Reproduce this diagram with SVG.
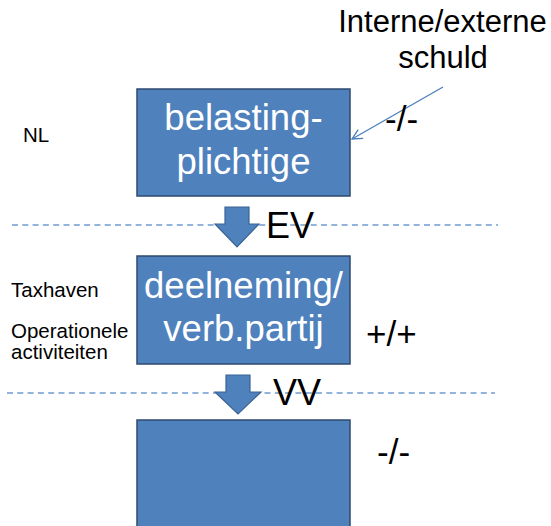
<svg xmlns="http://www.w3.org/2000/svg" width="551" height="526" viewBox="0 0 551 526">
  <style>
    .box { fill: #4F81BD; stroke: #2E4A6E; stroke-width: 1.5; }
    .blk { fill: #4F81BD; stroke: #3A6394; stroke-width: 1.2; }
    .dash { stroke: #6F9AD0; stroke-width: 1.5; stroke-dasharray: 6 4.3; fill: none; }
    .wt { font-family: "Liberation Sans", Arial, sans-serif; font-size: 36.5px; fill: #FFFFFF; text-anchor: middle; }
    .bt { font-family: "Liberation Sans", Arial, sans-serif; fill: #000000; }
    .lbl { font-family: "Liberation Sans", Arial, sans-serif; font-size: 20.5px; fill: #000000; }
  </style>
  <defs>
    <marker id="openHead" viewBox="0 0 12 12" refX="11" refY="6" markerWidth="12" markerHeight="12" markerUnits="userSpaceOnUse" orient="auto">
      <path d="M1,1 L11,6 L1,11" fill="none" stroke="#4A7EBB" stroke-width="1.3"/>
    </marker>
  </defs>

  <!-- separators -->
  <g id="separators">
    <line class="dash" x1="12" y1="225" x2="498" y2="225"/>
    <line class="dash" x1="7" y1="393" x2="495" y2="393"/>
  </g>

  <!-- side labels -->
  <g id="labels">
    <text class="lbl" x="23" y="142">NL</text>
    <text class="lbl" x="11" y="297">Taxhaven</text>
    <text class="lbl" x="11" y="338">Operationele</text>
    <text class="lbl" x="11" y="359">activiteiten</text>
  </g>

  <g id="node-belastingplichtige">
    <rect class="box" x="137" y="89" width="213" height="107"/>
    <text class="wt" x="243.5" y="130">belasting-</text>
    <text class="wt" x="243.5" y="174">plichtige</text>
  </g>

  <g id="node-deelneming">
    <rect class="box" x="137" y="256" width="213" height="108"/>
    <text class="wt" x="243.5" y="298">deelneming/</text>
    <text class="wt" x="243.5" y="341">verb.partij</text>
  </g>

  <g id="node-bottom">
    <rect class="box" x="137" y="420" width="213" height="120"/>
  </g>

  <g id="note-schuld">
    <text class="bt" font-size="31" x="442.5" y="32" text-anchor="middle">Interne/externe</text>
    <text class="bt" font-size="31" x="443" y="68" text-anchor="middle">schuld</text>
  </g>

  <!-- connectors -->
  <g id="connectors">
    <line x1="443" y1="87" x2="352" y2="139" stroke="#4A7EBB" stroke-width="1.3" marker-end="url(#openHead)"/>
    <path class="blk" d="M225,207 L249,207 L249,224 L259,224 L237,247 L215,224 L225,224 Z"/>
    <path class="blk" d="M226,375 L250,375 L250,392 L261,392 L238,414 L215,392 L226,392 Z"/>
  </g>

  <g id="flow-labels">
    <text class="bt" font-size="36" x="266" y="238">EV</text>
    <text class="bt" font-size="36" x="273" y="405">VV</text>
    <text class="bt" font-size="35" x="385" y="131">-/-</text>
    <text class="bt" font-size="35" x="366" y="346">+/+</text>
    <text class="bt" font-size="35" x="377" y="464">-/-</text>
  </g>
</svg>
